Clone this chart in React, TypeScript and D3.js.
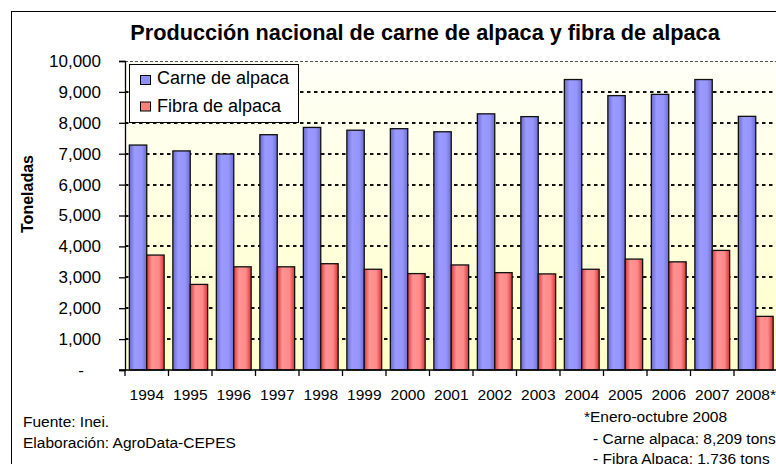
import * as d3 from "d3";
import { useEffect, useRef } from "react";

const years = ["1994", "1995", "1996", "1997", "1998", "1999", "2000", "2001", "2002", "2003", "2004", "2005", "2006", "2007", "2008*"];
const carne = [7280, 7090, 6990, 7615, 7850, 7760, 7810, 7710, 8290, 8200, 9400, 8880, 8920, 9400, 8209];
const fibra = [3720, 2770, 3340, 3340, 3440, 3260, 3120, 3400, 3150, 3110, 3260, 3590, 3500, 3870, 1736];
const seriesNames = ["Carne de alpaca", "Fibra de alpaca"];
const yTicks = [0, 1000, 2000, 3000, 4000, 5000, 6000, 7000, 8000, 9000, 10000];

export default function App() {
    const ref = useRef<SVGSVGElement>(null);

    useEffect(() => {
        const width = 776;
        const height = 464;
        const font = "'Liberation Sans', Arial, sans-serif";
        const plot = { left: 125, top: 61, bottom: 370, right: 777.5 };

        const svg = d3.select(ref.current)
            .attr("width", width)
            .attr("height", height);

        // Remove all old content
        svg.selectAll("*").remove();

        const defs = svg.append("defs");

        const bg = defs.append("linearGradient").attr("id", "bg")
            .attr("x1", 0).attr("y1", 0).attr("x2", 0).attr("y2", 1);
        bg.append("stop").attr("offset", "0%").attr("stop-color", "#fffff7");
        bg.append("stop").attr("offset", "100%").attr("stop-color", "#ffffc8");

        const grad = (id: string, stops: [number, string][]) => {
            const g = defs.append("linearGradient").attr("id", id)
                .attr("x1", 0).attr("y1", 0).attr("x2", 1).attr("y2", 0);
            stops.forEach(([o, c]) => g.append("stop").attr("offset", `${o}%`).attr("stop-color", c));
        };
        grad("blueBar", [[0, "#6a6ac8"], [30, "#9a9aff"], [70, "#9595fc"], [100, "#6c6cd0"]]);
        grad("redBar", [[0, "#d83a3a"], [30, "#ff9494"], [70, "#ff8a8a"], [100, "#d83434"]]);
        const fills = ["url(#blueBar)", "url(#redBar)"];
        const markerFills = ["#9090f0", "#ff7d7d"];

        const x = d3.scaleBand()
            .domain(years)
            .range([plot.left, plot.right])
            .padding(0);

        const xs = d3.scaleBand()
            .domain(seriesNames)
            .range([0, x.bandwidth()])
            .paddingInner(0)
            .paddingOuter(0.25);

        const y = d3.scaleLinear()
            .domain([0, 10000])
            .range([plot.bottom, plot.top]);

        // Outer chart border
        svg.append("rect")
            .attr("x", 11.5).attr("y", 11.5)
            .attr("width", 900).attr("height", 600)
            .attr("fill", "#fff")
            .attr("stroke", "#000")
            .attr("stroke-width", 1);

        // Plot area background
        svg.append("rect")
            .attr("x", plot.left).attr("y", plot.top)
            .attr("width", plot.right - plot.left)
            .attr("height", plot.bottom - plot.top)
            .attr("fill", "url(#bg)");

        // Gridlines
        svg.selectAll(".grid")
            .data(yTicks.filter(d => d > 0 && d < 10000))
            .join("line")
            .attr("x1", plot.left).attr("x2", plot.right)
            .attr("y1", d => Math.round(y(d))).attr("y2", d => Math.round(y(d)))
            .attr("stroke", "#111")
            .attr("stroke-width", 2)
            .attr("stroke-dasharray", "3.5,3.5");

        svg.append("line")
            .attr("x1", plot.left).attr("x2", plot.right)
            .attr("y1", y(10000) + 0.5).attr("y2", y(10000) + 0.5)
            .attr("stroke", "#555")
            .attr("stroke-width", 1)
            .attr("stroke-dasharray", "3,2");

        // Bars
        const groups = svg.selectAll(".year")
            .data(years)
            .join("g")
            .attr("transform", d => `translate(${x(d)},0)`);

        groups.selectAll("rect")
            .data((d, i) => [carne[i], fibra[i]].map((v, s) => ({ v, s })))
            .join("rect")
            .attr("x", d => xs(seriesNames[d.s]))
            .attr("y", d => y(d.v))
            .attr("width", xs.bandwidth())
            .attr("height", d => y(0) - y(d.v))
            .attr("fill", d => fills[d.s])
            .attr("stroke", "#111")
            .attr("stroke-width", 1.3);

        // Y axis
        const yAxis = svg.append("g")
            .attr("transform", `translate(${plot.left},0)`)
            .call(d3.axisLeft(y).tickValues(yTicks).tickSize(6).tickPadding(18)
                .tickFormat(d => (+d === 0 ? "-" : d3.format(",")(+d))));
        yAxis.select(".domain").attr("stroke", "#000").attr("stroke-width", 1.3);
        yAxis.selectAll(".tick line").attr("stroke", "#000").attr("stroke-width", 1.3);
        yAxis.selectAll("text")
            .attr("font-family", font)
            .attr("font-size", 17)
            .attr("fill", "#000");
        yAxis.selectAll(".tick")
            .filter(d => +d === 0)
            .select("text")
            .attr("x", -41);

        // X axis
        const xAxis = svg.append("g")
            .attr("transform", `translate(0,${plot.bottom})`)
            .call(d3.axisBottom(x).tickSize(0).tickPadding(19));
        xAxis.select(".domain").remove();
        xAxis.selectAll("text")
            .attr("font-family", font)
            .attr("font-size", 15.5)
            .attr("fill", "#000");

        svg.append("line")
            .attr("x1", plot.left - 6).attr("x2", plot.right)
            .attr("y1", plot.bottom).attr("y2", plot.bottom)
            .attr("stroke", "#000").attr("stroke-width", 1.3);

        svg.selectAll(".xtick")
            .data(years)
            .join("line")
            .attr("x1", d => x(d)).attr("x2", d => x(d))
            .attr("y1", plot.bottom).attr("y2", plot.bottom + 6)
            .attr("stroke", "#000").attr("stroke-width", 1.3);

        // Title
        svg.append("text")
            .attr("x", 425).attr("y", 40)
            .attr("text-anchor", "middle")
            .attr("font-family", font)
            .attr("font-size", 21.7)
            .attr("font-weight", "bold")
            .text("Producción nacional de carne de alpaca y fibra de alpaca");

        // Y axis title
        svg.append("text")
            .attr("transform", "translate(33,194) rotate(-90)")
            .attr("text-anchor", "middle")
            .attr("font-family", font)
            .attr("font-size", 16)
            .attr("font-weight", "bold")
            .text("Toneladas");

        // Legend
        const legend = svg.append("g");
        legend.append("rect")
            .attr("x", 129.5).attr("y", 64.5)
            .attr("width", 169).attr("height", 58)
            .attr("fill", "#fff")
            .attr("stroke", "#000");
        seriesNames.forEach((name, i) => {
            legend.append("rect")
                .attr("x", 140.5).attr("y", 75.5 + i * 26.5)
                .attr("width", 10).attr("height", 9)
                .attr("fill", markerFills[i])
                .attr("stroke", "#000");
            legend.append("text")
                .attr("x", 157).attr("y", 84 + i * 27.5)
                .attr("font-family", font)
                .attr("font-size", 18)
                .text(name);
        });

        // Footnotes
        const notes = [
            { t: "Fuente: Inei.", x: 23, y: 427 },
            { t: "Elaboración: AgroData-CEPES", x: 23, y: 448 },
            { t: "*Enero-octubre 2008", x: 584, y: 422 },
            { t: "- Carne alpaca: 8,209 tons", x: 593, y: 443.5 },
            { t: "- Fibra Alpaca: 1,736 tons", x: 593, y: 464 },
        ];
        svg.selectAll(".note")
            .data(notes)
            .join("text")
            .attr("x", d => d.x).attr("y", d => d.y)
            .attr("font-family", font)
            .attr("font-size", 15.5)
            .text(d => d.t);
    }, []);

    return (
        <svg ref={ref} style={{ position: "absolute", left: 0, top: 0, background: "#fff" }}></svg>
    );
}
